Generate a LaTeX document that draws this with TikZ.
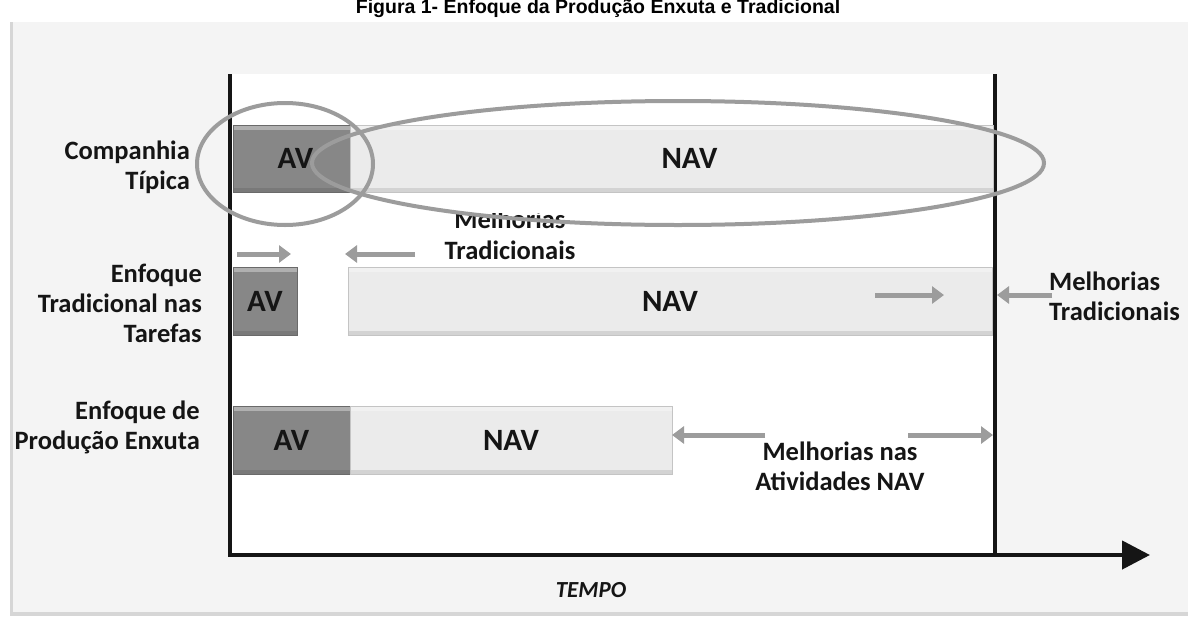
\documentclass[tikz,border=0pt]{standalone}
\usepackage{fontspec}
\setmainfont{Carlito}[BoldFont=Carlito Bold, ItalicFont=Carlito Italic, BoldItalicFont=Carlito Bold Italic]
\newfontfamily\titlefont{Liberation Sans}
\usetikzlibrary{arrows.meta}

\definecolor{panelbg}{HTML}{F4F4F4}
\definecolor{panelshade}{HTML}{D6D6D6}
\definecolor{avfill}{HTML}{878787}
\definecolor{avedge}{HTML}{6A6A6A}
\definecolor{navfill}{HTML}{EBEBEB}
\definecolor{navedge}{HTML}{C4C4C4}
\definecolor{markgray}{HTML}{9C9C9C}
\definecolor{inkdark}{HTML}{151515}

\tikzset{
  barbox/.style={inner sep=0pt, outer sep=0pt, line width=1pt, anchor=north west,
    font=\bfseries\fontsize{31}{31}\selectfont, text=inkdark,
    path picture={
      \fill[white, opacity=0.35] (path picture bounding box.north west) rectangle ([yshift=-5pt]path picture bounding box.north east);
      \fill[black, opacity=0.10] ([yshift=4pt]path picture bounding box.south west) rectangle (path picture bounding box.south east);
    }},
  avbox/.style={barbox, draw=avedge, fill=avfill},
  navbox/.style={barbox, draw=navedge, fill=navfill},
  rowlabel/.style={align=right, anchor=east, inner sep=0pt, text=inkdark,
    font=\bfseries\fontsize{26.5}{30}\selectfont},
  notelabel/.style={inner sep=0pt, text=inkdark, font=\bfseries\fontsize{26.5}{30}\selectfont},
  grayarrow/.style={draw=markgray, line width=5pt, -{Triangle[length=12pt,width=17pt]}},
  axisline/.style={draw=inkdark, line width=4.5pt, line join=miter},
  ring/.style={draw=markgray, line width=4pt},
}

\begin{document}
\begin{tikzpicture}[x=1pt, y=-1pt]
  \useasboundingbox (0,0) rectangle (1188,616);
  \fill[white] (0,0) rectangle (1188,616);

  % caption above the panel
  \node[anchor=base, inner sep=0pt, font=\titlefont\bfseries\fontsize{19.5}{19.5}\selectfont, text=black]
    (caption) at (598,13) {Figura 1- Enfoque da Produção Enxuta e Tradicional};

  % panel with soft edge
  \fill[panelshade] (10,22) rectangle (1188,616);
  \fill[panelbg] (13,22) rectangle (1188,612);
  \fill[white] (232,74) rectangle (994,553);

  % axes
  \coordinate (ytop) at (230,74);
  \coordinate (origin) at (230,555);
  \coordinate (xend) at (1150,555);
  \coordinate (limtop) at (995,74);
  \coordinate (limbot) at (995,555);
  \draw[axisline] (limtop) -- (limbot);

  % row 1: typical company
  \node[avbox, minimum width=117pt, minimum height=67pt] (av1) at (233,125) {\hspace*{8pt}AV};
  \node[navbox, minimum width=643pt, minimum height=67pt] (nav1) at (350,125) {\hspace*{36pt}NAV};

  % row 2: traditional task focus
  \node[avbox, minimum width=64pt, minimum height=68pt] (av2) at (233,267) {AV};
  \node[navbox, minimum width=644pt, minimum height=68pt] (nav2) at (348,267) {NAV};

  % row 3: lean production focus
  \node[avbox, minimum width=117pt, minimum height=68pt] (av3) at (233,406) {AV};
  \node[navbox, minimum width=322pt, minimum height=68pt] (nav3) at (350,406) {NAV};

  \draw[axisline, -{Triangle[length=28pt,width=28pt]}] (ytop) -- (origin) -- (xend);

  % row labels
  \node[rowlabel] (lab1) at (190,167) {Companhia\\Típica};
  \node[rowlabel] (lab2) at (202,303) {Enfoque\\Tradicional nas\\Tarefas};
  \node[rowlabel] (lab3) at (200,427) {Enfoque de\\Produção Enxuta};

  % improvement notes
  \node[notelabel, align=center, anchor=base] (mid1) at (510,228) {Melhorias};
  \node[notelabel, align=center, anchor=base] (mid2) at (510,259) {Tradicionais};
  \fill[white] (440,196) rectangle (590,213);
  \node[notelabel, align=left, anchor=west] (right1) at (1049,296) {Melhorias\\Tradicionais};
  \node[notelabel, align=center] (lean) at (840,466) {Melhorias nas\\Atividades NAV};
  \node[inner sep=0pt, text=inkdark, font=\bfseries\itshape\fontsize{23}{23}\selectfont] (tempo) at (591,590) {TEMPO};

  % gray improvement arrows
  \coordinate (a1s) at (237,254); \coordinate (a1e) at (291,254);
  \coordinate (a2s) at (415,254); \coordinate (a2e) at (345,254);
  \coordinate (a3s) at (875,295); \coordinate (a3e) at (944,295);
  \coordinate (a4s) at (1052,295); \coordinate (a4e) at (997,295);
  \coordinate (a5s) at (765,435);
  \coordinate (a6s) at (908,435); \coordinate (a6e) at (993,435);
  \draw[grayarrow] (a1s) -- (a1e);
  \draw[grayarrow] (a2s) -- (a2e);
  \draw[grayarrow] (a3s) -- (a3e);
  \draw[grayarrow] (a4s) -- (a4e);
  \draw[grayarrow] (a5s) -- (nav3.east |- a5s);
  \draw[grayarrow] (a6s) -- (a6e);

  % highlighting rings
  \draw[ring] (285,164) ellipse [x radius=88pt, y radius=61pt];
  \draw[ring] (678,163) ellipse [x radius=366pt, y radius=62pt];
\end{tikzpicture}
\end{document}
